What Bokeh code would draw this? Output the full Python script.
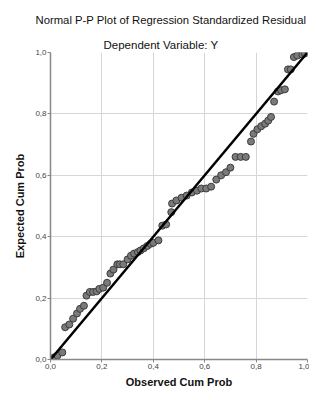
from bokeh.plotting import figure
from bokeh.models import Range1d, FixedTicker, Title, ColumnDataSource
from bokeh.embed import file_html
from bokeh.resources import INLINE

observed = [0.004, 0.014, 0.027, 0.046, 0.057, 0.073, 0.088, 0.103, 0.115, 0.13,
            0.14, 0.153, 0.166, 0.18, 0.19, 0.205, 0.22, 0.233, 0.245, 0.26,
            0.27, 0.283, 0.30, 0.313, 0.325, 0.34, 0.35, 0.363, 0.377, 0.39,
            0.40, 0.42, 0.435, 0.45, 0.47, 0.473, 0.49, 0.51, 0.53, 0.55,
            0.57, 0.587, 0.606, 0.625, 0.645, 0.664, 0.683, 0.70, 0.72, 0.74,
            0.76, 0.78, 0.79, 0.805, 0.82, 0.835, 0.847, 0.858, 0.87, 0.885,
            0.897, 0.912, 0.924, 0.935, 0.947, 0.96, 0.98, 0.99]
expected = [0.0, 0.007, 0.013, 0.023, 0.105, 0.114, 0.133, 0.15, 0.165, 0.175,
            0.208, 0.22, 0.22, 0.222, 0.23, 0.234, 0.25, 0.28, 0.293, 0.31,
            0.31, 0.31, 0.326, 0.338, 0.345, 0.35, 0.355, 0.362, 0.37, 0.377,
            0.38, 0.388, 0.436, 0.44, 0.48, 0.508, 0.518, 0.527, 0.534, 0.544,
            0.55, 0.557, 0.557, 0.563, 0.586, 0.6, 0.61, 0.625, 0.66, 0.66,
            0.66, 0.71, 0.735, 0.75, 0.76, 0.768, 0.778, 0.79, 0.84, 0.873,
            0.877, 0.88, 0.945, 0.945, 0.985, 0.99, 0.993, 0.997]
ref_line_x = [0.0, 1.0]
ref_line_y = [0.0, 1.0]
ticks = [0.0, 0.2, 0.4, 0.6, 0.8, 1.0]
tick_labels = {t: f"{t:.1f}".replace(".", ",") for t in ticks}
title_text = "Normal P-P Plot of Regression Standardized Residual"
subtitle_text = "Dependent Variable: Y"

FONT = "Liberation Sans"

p = figure(width=309, height=392, output_backend="svg", toolbar_location=None,
           x_range=Range1d(0, 1), y_range=Range1d(0, 1),
           min_border_left=50, min_border_right=2, min_border_bottom=33,
           min_border_top=52)
p.outline_line_color = None
p.background_fill_color = "white"

p.title.text = title_text
p.title.align = "left"
p.title.offset = -15
p.title.text_font = FONT
p.title.text_font_size = "11.3px"
p.title.text_font_style = "normal"
p.title.text_color = "#111111"
p.title.standoff = 18
p.add_layout(Title(text=subtitle_text,
                   align="left", offset=53, text_font=FONT,
                   text_font_size="11.5px",
                   text_font_style="normal", text_color="#111111",
                   standoff=4), "above")

for ax in (p.xaxis[0], p.yaxis[0]):
    ax.ticker = FixedTicker(ticks=ticks)
    ax.major_label_overrides = tick_labels
    ax.major_label_text_font = FONT
    ax.major_label_text_font_size = "8px"
    ax.major_label_text_color = "#444444"
    ax.axis_line_color = "#888888"
    ax.axis_line_width = 1.5
    ax.major_tick_line_color = "#888888"
    ax.major_tick_out = 3
    ax.major_tick_in = 0
    ax.minor_tick_line_color = None
    ax.axis_label_text_font = FONT
    ax.axis_label_text_font_size = "11px"
    ax.axis_label_text_font_style = "bold"
    ax.axis_label_text_color = "#111111"
    ax.major_label_standoff = 1

p.xaxis.axis_label = "Observed Cum Prob"
p.yaxis.axis_label = "Expected Cum Prob"
p.xaxis.axis_label_standoff = 4
p.yaxis.axis_label_standoff = 6

p.xgrid.ticker = FixedTicker(ticks=ticks)
p.ygrid.ticker = FixedTicker(ticks=ticks)
p.grid.grid_line_color = "#d6d6d6"
p.grid.grid_line_width = 1

src = ColumnDataSource(dict(x=observed, y=expected))
p.scatter("x", "y", source=src, size=7, fill_color="#7a7a7a",
          line_color="#3c3c3c", line_width=1)
p.line(ref_line_x, ref_line_y, line_color="black", line_width=2.5)

open("out.html", "w").write(file_html(p, INLINE))
